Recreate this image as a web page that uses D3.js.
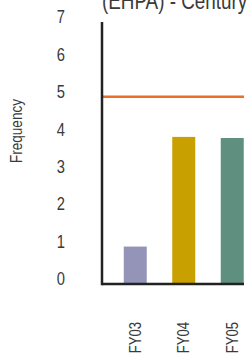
<!DOCTYPE html>
<html>
<head>
<meta charset="utf-8">
<script src="https://cdn.jsdelivr.net/npm/d3@7"></script>
<style>
    body { margin: 0; background: #fff; }
    svg text { font-family: "Liberation Sans", Arial, sans-serif; fill: #3a3a3a; }
</style>
</head>
<body>
<svg id="chart" width="252" height="360"></svg>
<script>
    var categories = ["FY03", "FY04", "FY05"],
        values = [1, 3.93, 3.9],
        colors = ["#9394b8", "#c8a000", "#5f8f7f"],
        yTicks = [0, 1, 2, 3, 4, 5, 6, 7],
        target = 5,
        title = "(EHPA) - Century",
        yLabel = "Frequency";

    var svg = d3.select("#chart"),
        plotLeft = 102, plotRight = 244, plotTop = 22, plotBottom = 284,
        narrow = 0.82; // the source font is a condensed face

    var y = d3.scaleLinear().domain([0, 7]).range([plotBottom, plotTop]);
    var x = d3.scaleBand().domain(categories)
        .range([111, 256.5]).paddingInner(0.526).paddingOuter(0.263);

    svg.append("defs").append("clipPath").attr("id", "plotClip")
        .append("rect").attr("x", 0).attr("y", 0).attr("width", plotRight).attr("height", 360);

    // title, cut off by the top edge
    svg.append("text")
        .attr("transform", "translate(102,9) scale(" + narrow + ",1)")
        .style("font-size", "23px").text(title);

    var plot = svg.append("g").attr("clip-path", "url(#plotClip)");

    plot.selectAll("rect.bar").data(values).enter().append("rect")
        .attr("class", "bar")
        .attr("x", function (d, i) { return x(categories[i]); })
        .attr("width", x.bandwidth())
        .attr("y", function (d) { return y(d); })
        .attr("height", function (d) { return y(0) - y(d); })
        .attr("fill", function (d, i) { return colors[i]; });

    plot.append("line")
        .attr("x1", plotLeft).attr("x2", plotRight)
        .attr("y1", y(target)).attr("y2", y(target))
        .attr("stroke", "#e8702a").attr("stroke-width", 2.5);

    // axes
    plot.append("line").attr("x1", plotLeft).attr("x2", plotRight + 10)
        .attr("y1", plotBottom).attr("y2", plotBottom)
        .attr("stroke", "#222").attr("stroke-width", 2.5);
    svg.append("line").attr("x1", plotLeft).attr("x2", plotLeft)
        .attr("y1", plotTop).attr("y2", plotBottom + 1.25)
        .attr("stroke", "#222").attr("stroke-width", 2.5);

    svg.selectAll("text.ytick").data(yTicks).enter().append("text")
        .attr("class", "ytick")
        .attr("transform", function (d) {
            return "translate(65," + (y(d) - 5) + ") scale(" + narrow + ",1)";
        })
        .attr("dy", "0.35em").attr("text-anchor", "end")
        .style("font-size", "18px")
        .text(function (d) { return d; });

    svg.append("text")
        .attr("transform", "translate(22,131) rotate(-90) scale(" + narrow + ",1)")
        .attr("text-anchor", "middle")
        .style("font-size", "16.5px")
        .text(yLabel);

    svg.selectAll("text.xtick").data(categories).enter().append("text")
        .attr("class", "xtick")
        .attr("transform", function (d) {
            return "translate(" + (x(d) + x.bandwidth() / 2 + 5.5) + ",322) rotate(-90) scale(" + narrow + ",1)";
        })
        .attr("text-anchor", "end")
        .style("font-size", "16px")
        .text(function (d) { return d; });
</script>
</body>
</html>
